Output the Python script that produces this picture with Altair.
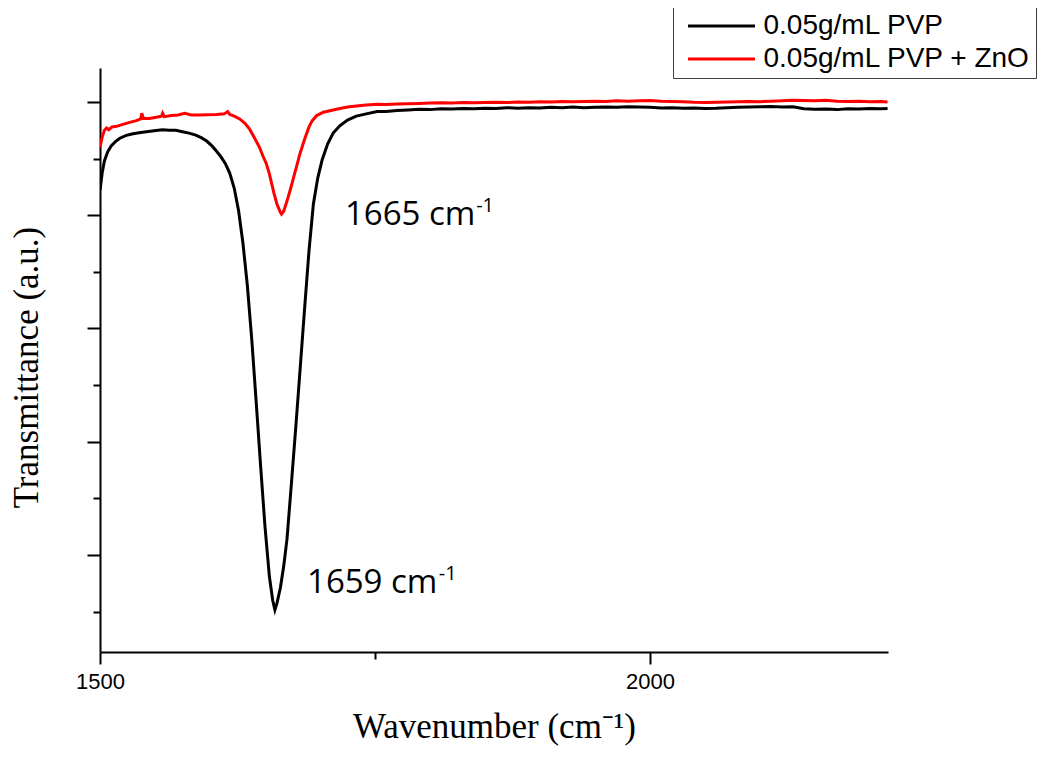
import altair as alt
import pandas as pd

SERIES = ["0.05g/mL PVP", "0.05g/mL PVP + ZnO"]
COLORS = ["#000000", "#ff0000"]

# 0.05g/mL PVP (black)
pvp_wn = [1500, 1502, 1504, 1507, 1510, 1514, 1518, 1524, 1530, 1537, 1544, 1551, 1557, 1563, 1569,
          1575, 1581, 1587, 1592, 1597, 1602, 1606, 1610, 1614, 1618, 1622, 1626, 1630, 1634, 1638,
          1642, 1646, 1650, 1654, 1657, 1659, 1661, 1664, 1667, 1670, 1674, 1678, 1682, 1686, 1690,
          1694, 1698, 1702, 1707, 1712, 1718, 1725, 1733, 1742, 1752,
          1760, 1770, 1780, 1790, 1800, 1810, 1820, 1830, 1840, 1850, 1860, 1870, 1880, 1890, 1900,
          1910, 1920, 1930, 1940, 1950, 1960, 1970, 1980, 1990, 2000, 2010, 2020, 2030, 2040, 2050,
          2060, 2070, 2080, 2090, 2100, 2110, 2120, 2130, 2140, 2150, 2160, 2170, 2180, 2190, 2200,
          2210, 2216]
pvp_t = [84.4, 87.5, 89.6, 91.2, 92.2, 93.0, 93.6, 94.1, 94.4, 94.6, 94.8, 94.95, 95.1, 95.0, 95.0,
         94.75, 94.5, 94.15, 93.7, 93.1, 92.2, 91.3, 90.3, 89.1, 87.4, 84.8, 80.8, 75.0, 67.5, 58.0,
         47.0, 35.8, 25.0, 16.2, 12.0, 10.3, 11.6, 14.2, 18.0, 22.8, 32.6, 42.6, 53.0, 63.5, 73.7,
         82.0, 86.6, 89.8, 92.6, 94.5, 95.8, 96.8, 97.5, 97.9, 98.3,
         98.3, 98.5, 98.6, 98.7, 98.65, 98.8, 98.75, 98.85, 98.8, 98.9, 98.85, 99.0, 98.9, 99.0, 98.95,
         99.05, 99.0, 99.1, 99.0, 99.05, 99.1, 99.05, 99.15, 99.1, 99.05, 98.95, 99.0, 98.9, 98.95, 98.85,
         98.9, 99.0, 99.05, 99.1, 99.15, 99.2, 99.1, 99.15, 98.8, 98.7, 98.75, 98.65, 98.8, 98.75, 98.85,
         98.8, 98.85]

# 0.05g/mL PVP + ZnO (red)
zno_wn = [1500, 1502, 1504, 1506, 1508, 1511, 1515, 1520, 1527, 1533, 1537, 1538, 1539.5, 1545, 1551,
          1556, 1557, 1558.5, 1565, 1571, 1577, 1583, 1590, 1598, 1606, 1613, 1616, 1618, 1622, 1627,
          1632, 1636, 1640, 1645, 1648, 1651, 1654, 1658, 1661, 1664, 1665, 1667, 1670, 1673, 1677,
          1682, 1686, 1690, 1693, 1697, 1703, 1710, 1717, 1725, 1733, 1742, 1752,
          1760, 1770, 1780, 1790, 1800, 1810, 1820, 1830, 1840, 1850, 1860, 1870, 1880, 1890, 1900,
          1910, 1920, 1930, 1940, 1950, 1960, 1970, 1980, 1990, 2000, 2010, 2020, 2030, 2040, 2050,
          2060, 2070, 2080, 2090, 2100, 2110, 2120, 2130, 2140, 2150, 2160, 2170, 2180, 2190, 2200,
          2210, 2216]
zno_t = [92.0, 93.8, 95.0, 95.4, 95.1, 95.6, 95.7, 96.0, 96.4, 96.7, 97.0, 98.0, 97.1, 97.1, 97.3,
         97.5, 98.0, 97.4, 97.6, 97.7, 98.0, 97.7, 97.7, 97.75, 97.8, 97.9, 98.3, 97.8, 97.5, 97.0,
         96.2, 95.2, 93.8, 92.0, 90.5, 89.2, 87.3, 84.0, 81.9, 80.5, 80.2, 80.7, 82.5, 84.5, 87.4,
         91.0, 93.4, 95.6, 96.7, 97.6, 98.2, 98.5, 98.8, 99.1, 99.3, 99.45, 99.6,
         99.55, 99.65, 99.7, 99.75, 99.8, 99.85, 99.8, 99.9, 99.85, 99.9, 99.95, 99.9, 100.0, 99.95, 100.05,
         100.0, 100.1, 100.05, 100.1, 100.15, 100.1, 100.2, 100.15, 100.2, 100.25, 100.15, 100.1, 100.05, 99.95, 99.9,
         99.95, 100.0, 100.05, 100.1, 100.05, 100.15, 100.2, 100.3, 100.25, 100.2, 100.3, 100.15, 100.1, 100.15, 100.05,
         100.1, 100.0]

# peak annotations
ann_text = ["1665 cm", "1659 cm"]
ann_wn = [1722.7, 1688.2]
ann_t = [78.3, 13.3]
sup_text = ["-1", "-1"]
sup_wn = [1842.0, 1808.0]
sup_t = [80.6, 15.6]

x_major = [1500, 2000]
x_minor = [1750]
y_major = [20, 40, 60, 80, 100]
y_minor = [10, 30, 50, 70, 90]
X_DOMAIN = [1500, 2216.4]
Y_DOMAIN = [2.87, 106.0]

rows = [{"series": SERIES[0], "wn": w, "t": t} for w, t in zip(pvp_wn, pvp_t)]
rows += [{"series": SERIES[1], "wn": w, "t": t} for w, t in zip(zno_wn, zno_t)]
df = pd.DataFrame(rows)
ann_df = pd.DataFrame({"wn": ann_wn, "t": ann_t, "label": ann_text})
sup_df = pd.DataFrame({"wn": sup_wn, "t": sup_t, "label": sup_text})

xs = alt.Scale(domain=X_DOMAIN, nice=False, zero=False)
ys = alt.Scale(domain=Y_DOMAIN, nice=False, zero=False)

lines = alt.Chart(df).mark_line(strokeWidth=3, clip=True).encode(
    x=alt.X("wn:Q", scale=xs, axis=alt.Axis(
        orient="bottom", values=x_major, format="d", tickSize=12, labelPadding=7,
        labelFlush=False,
        title="Wavenumber (cm⁻¹)", titleY=85, titleBaseline="alphabetic")),
    y=alt.Y("t:Q", scale=ys, axis=alt.Axis(
        orient="left", values=y_major, labels=False, tickSize=13,
        title="Transmittance (a.u.)", titleAngle=270, titleX=-63, titleY=299,
        titleBaseline="alphabetic")),
    color=alt.Color("series:N", scale=alt.Scale(domain=SERIES, range=COLORS), legend=alt.Legend(
        title=None, orient="none", legendX=573, legendY=-61,
        symbolType="M-3,0H3", symbolSize=499, symbolStrokeWidth=3,
        symbolOffset=29.5, labelOffset=28, labelFont="Liberation Sans",
        labelFontSize=28, labelColor="black", labelLimit=500, padding=5,
        rowPadding=5, strokeColor="#404040", fillColor="white")),
)

ann = alt.Chart(ann_df).mark_text(
    align="left", baseline="alphabetic", font="Open Sans", fontSize=33, color="black"
).encode(
    x=alt.X("wn:Q", scale=xs, axis=alt.Axis(
        orient="bottom", values=x_minor, labels=False, tickSize=7, domain=False, title=None)),
    y=alt.Y("t:Q", scale=ys, axis=alt.Axis(
        orient="left", values=y_minor, labels=False, tickSize=7, domain=False, title=None)),
    text="label:N",
)

sup = alt.Chart(sup_df).mark_text(
    align="left", baseline="alphabetic", font="Open Sans", fontSize=20, color="black"
).encode(
    x=alt.X("wn:Q", scale=xs, axis=None),
    y=alt.Y("t:Q", scale=ys, axis=None),
    text="label:N",
)

chart = alt.layer(lines, ann, sup).resolve_axis(
    x="independent", y="independent"
).properties(
    width=788, height=584,
    padding={"left": 92, "top": 60, "right": 152, "bottom": 95},
    autosize=alt.AutoSizeParams(type="none"),
).configure_axis(
    domainColor="black", domainWidth=2, tickColor="black", tickWidth=2, grid=False,
    labelFont="Liberation Sans", labelFontSize=22, labelColor="black",
    titleFont="Liberation Serif", titleFontSize=35, titleFontWeight="normal", titleColor="black",
).configure_view(stroke=None)

chart.save("out.html", embed_options={"renderer": "svg", "actions": False})
